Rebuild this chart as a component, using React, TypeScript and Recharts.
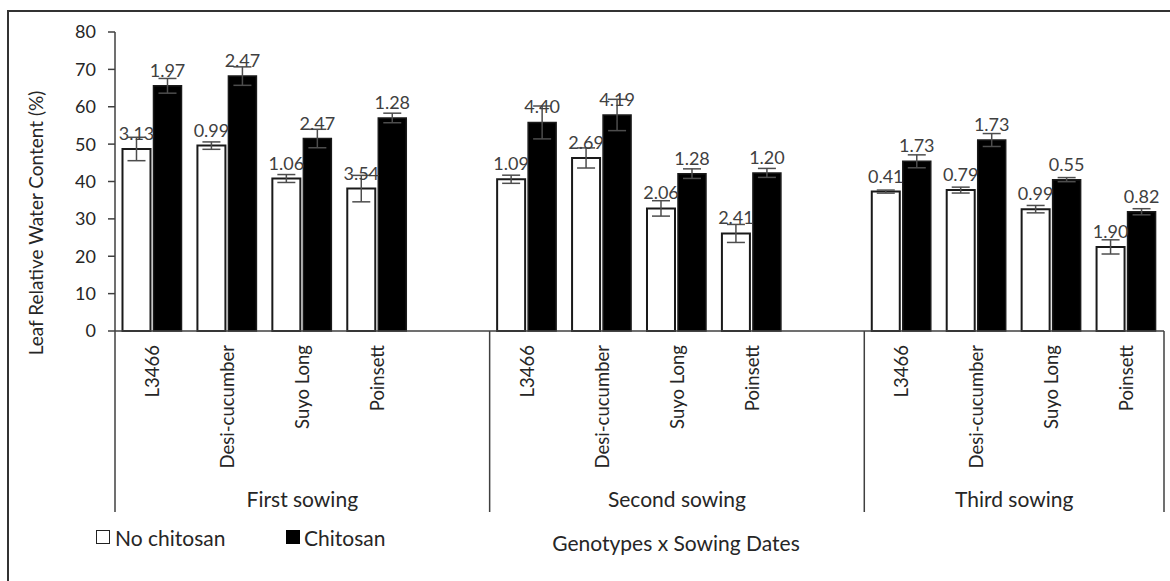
import React from "react";
import { BarChart, Bar, XAxis, YAxis, ErrorBar, LabelList } from "recharts";

const sowings = ["First sowing", "Second sowing", "Third sowing"];
const genotypes = ["L3466", "Desi-cucumber", "Suyo Long", "Poinsett"];

// order: sowing 1 (4 genotypes), sowing 2, sowing 3
const noChitosan = [48.7, 49.6, 40.8, 38.1, 40.6, 46.3, 32.8, 26.1, 37.3, 37.7, 32.6, 22.5];
const chitosan = [65.6, 68.2, 51.5, 57.0, 55.8, 57.8, 42.1, 42.3, 45.4, 51.1, 40.5, 31.9];
const noChitosanSE = [3.13, 0.99, 1.06, 3.54, 1.09, 2.69, 2.06, 2.41, 0.41, 0.79, 0.99, 1.9];
const chitosanSE = [1.97, 2.47, 2.47, 1.28, 4.4, 4.19, 1.28, 1.2, 1.73, 1.73, 0.55, 0.82];
const yTicks = [0, 10, 20, 30, 40, 50, 60, 70, 80];

const FONT = "Lato, 'Open Sans', sans-serif";
const INK = "#262626";

// one row per genotype, plus an empty spacer row between sowings
const rows: any[] = [];
sowings.forEach((s, si) => {
  genotypes.forEach((g, gi) => {
    const i = si * genotypes.length + gi;
    rows.push({
      id: `${s}|${g}`, sowing: s, genotype: g, first: gi === 0,
      no: noChitosan[i], chi: chitosan[i], noSE: noChitosanSE[i], chiSE: chitosanSE[i],
    });
  });
  if (si < sowings.length - 1) rows.push({ id: `${s}|gap`, sowing: s, genotype: "", first: false });
});

function CategoryTick(props: any) {
  const { x, y, payload, width } = props;
  const row = rows[payload.index];
  const half = payload.offset || width / rows.length / 2;
  const groupSize = rows.filter(r => r.sowing === row.sowing).length;
  const isLast = payload.index === rows.length - 1;
  return (
    <g>
      {row.genotype && (
        <text x={x} y={y + 14} dy="0.36em" transform={`rotate(-90 ${x} ${y + 14})`} textAnchor="end"
          fontSize={18.5} fontFamily={FONT} fill={INK}>{row.genotype}</text>
      )}
      {row.first && (
        <>
          <line x1={x - half} x2={x - half} y1={y} y2={y + 181} stroke="#404040" strokeWidth={1.5} />
          <text x={x - half + groupSize * half} y={y + 176} textAnchor="middle" fontSize={21}
            fontFamily={FONT} fill={INK}>{row.sowing}</text>
        </>
      )}
      {isLast && <line x1={x + half} x2={x + half} y1={y} y2={y + 181} stroke="#404040" strokeWidth={1.5} />}
    </g>
  );
}

const fmt = (v: any) => (v == null ? "" : Number(v).toFixed(2));

export default function App() {
  return (
    <div style={{ position: "absolute", left: 0, top: 0, width: 1170, height: 581, overflow: "hidden", background: "#fff", fontFamily: FONT }}>
      <div style={{ position: "absolute", left: 7, top: 10, width: 1300, height: 800, border: "2px solid #333", boxSizing: "border-box" }} />
      <BarChart width={1170} height={581} data={rows} barCategoryGap="10%" barGap={3}
        margin={{ top: 32, right: 6, left: 55, bottom: 220 }}>
        <XAxis dataKey="id" interval={0} height={30} tick={<CategoryTick />} tickLine={false}
          tickSize={0} tickMargin={0} axisLine={{ stroke: "#404040", strokeWidth: 1.5 }} />
        <YAxis width={60} domain={[0, 80]} ticks={yTicks} interval={0} tickSize={7} tickMargin={12}
          axisLine={{ stroke: "#404040", strokeWidth: 1.5 }} tickLine={{ stroke: "#404040", strokeWidth: 1.5 }}
          tick={{ fontSize: 18, fontFamily: FONT, fill: INK }} />
        <Bar dataKey="no" fill="#fff" stroke="#1a1a1a" strokeWidth={2} isAnimationActive={false}>
          <ErrorBar dataKey="noSE" width={9} stroke="#4d4d4d" strokeWidth={1.5} direction="y" />
          <LabelList dataKey="noSE" position="top" offset={9} formatter={fmt}
            style={{ fontSize: 18, fontFamily: FONT, fill: "#404040" }} />
        </Bar>
        <Bar dataKey="chi" fill="#000" stroke="#1a1a1a" strokeWidth={1.5} isAnimationActive={false}>
          <ErrorBar dataKey="chiSE" width={9} stroke="#4d4d4d" strokeWidth={1.5} direction="y" />
          <LabelList dataKey="chiSE" position="top" offset={9} formatter={fmt}
            style={{ fontSize: 18, fontFamily: FONT, fill: "#404040" }} />
        </Bar>
      </BarChart>
      <div style={{ position: "absolute", left: 35, top: 223, transform: "translate(-50%, -50%) rotate(-90deg)",
        whiteSpace: "nowrap", fontSize: 19, color: INK }}>Leaf Relative Water Content (%)</div>
      <span style={{ position: "absolute", left: 96, top: 530, width: 14, height: 14, border: "1.5px solid #222",
        background: "#fff", boxSizing: "border-box" }} />
      <span style={{ position: "absolute", left: 115, top: 537, transform: "translateY(-50%)", fontSize: 21, color: INK, whiteSpace: "nowrap" }}>
        No chitosan</span>
      <span style={{ position: "absolute", left: 286, top: 530, width: 14, height: 14, background: "#000" }} />
      <span style={{ position: "absolute", left: 304, top: 537, transform: "translateY(-50%)", fontSize: 21, color: INK, whiteSpace: "nowrap" }}>
        Chitosan</span>
      <div style={{ position: "absolute", left: 676, top: 542, transform: "translate(-50%, -50%)", whiteSpace: "nowrap", fontSize: 21, color: INK }}>
        Genotypes x Sowing Dates
      </div>
    </div>
  );
}
